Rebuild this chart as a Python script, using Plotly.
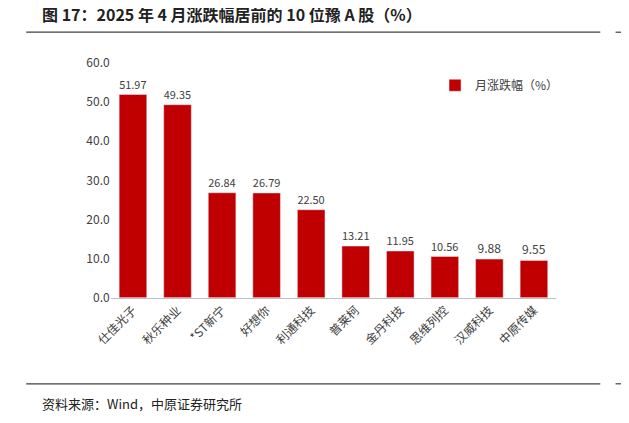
import plotly.graph_objects as go

stocks = ["仕佳光子", "秋乐种业", "*ST新宁", "好想你", "利通科技",
          "普莱柯", "金丹科技", "思维列控", "汉威科技", "中原传媒"]
changes = [51.97, 49.35, 26.84, 26.79, 22.50, 13.21, 11.95, 10.56, 9.88, 9.55]
y_ticks = [0, 10, 20, 30, 40, 50, 60]

FONT = "Noto Sans CJK SC"

fig = go.Figure()
fig.add_trace(go.Bar(
    x=stocks, y=changes, name="月涨跌幅（%）",
    marker_color="#C00000", width=0.62,
    text=[f"{v:.2f}" for v in changes], textposition="outside",
    textfont=dict(size=12, color="#404040", family=FONT),
    cliponaxis=False,
))

fig.update_layout(
    width=629, height=423,
    paper_bgcolor="white", plot_bgcolor="white",
    margin=dict(l=0, r=0, t=0, b=0),
    font=dict(family=FONT, color="#404040"),
    showlegend=True,
    legend=dict(x=0.67, y=0.87, xanchor="left", yanchor="top",
                font=dict(size=12, color="#404040"), bgcolor="rgba(0,0,0,0)"),
    bargap=0.38,
    xaxis=dict(domain=[0.14, 0.868], showline=True, linecolor="#BFBFBF",
               tickangle=-45, tickfont=dict(size=12), ticks=""),
    yaxis=dict(domain=[0.311, 0.889], range=[0, 60], tickvals=y_ticks,
               tickformat=".1f", showgrid=False, showline=False,
               tickfont=dict(size=12), zeroline=False),
    shapes=[
        dict(type="line", xref="paper", yref="paper", x0=0.002, x1=0.94,
             y0=0.965, y1=0.965, line=dict(color="#404040", width=1.2)),
        dict(type="line", xref="paper", yref="paper", x0=0.002, x1=0.94,
             y0=0.099, y1=0.099, line=dict(color="#404040", width=1.2)),
        dict(type="line", xref="paper", yref="paper", x0=0.965, x1=1.0,
             y0=0.965, y1=0.965, line=dict(color="#404040", width=1.2)),
        dict(type="line", xref="paper", yref="paper", x0=0.965, x1=1.0,
             y0=0.099, y1=0.099, line=dict(color="#404040", width=1.2)),
    ],
    annotations=[
        dict(text="<b>图 17：2025 年 4 月涨跌幅居前的 10 位豫 A 股（%）</b>",
             xref="paper", yref="paper", x=0.024, y=0.975,
             xanchor="left", yanchor="bottom", showarrow=False,
             font=dict(size=16, color="#222222", family=FONT)),
        dict(text="资料来源：Wind，中原证券研究所",
             xref="paper", yref="paper", x=0.024, y=0.08,
             xanchor="left", yanchor="top", showarrow=False,
             font=dict(size=13, color="#222222", family=FONT)),
    ],
)

fig.write_html("out.html")
